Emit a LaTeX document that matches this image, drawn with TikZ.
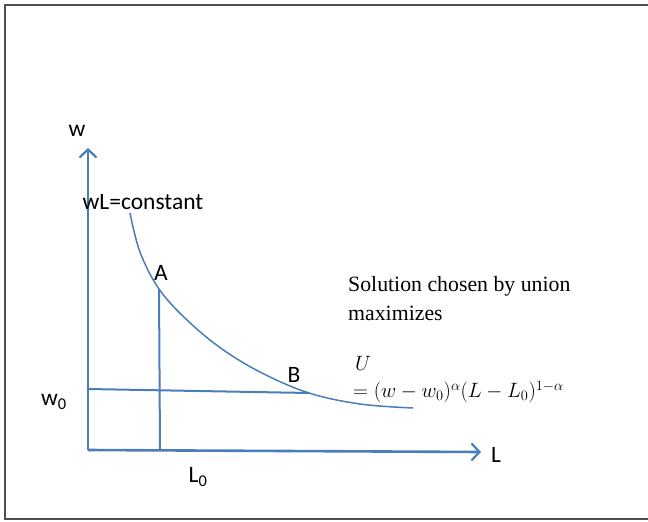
\documentclass[tikz,border=0pt]{standalone}
\usepackage{fontspec}
\setmainfont{Liberation Serif}
\newfontfamily\calibfont{Carlito}
\usepackage{tikz}
\usetikzlibrary{arrows.meta, positioning}
\definecolor{OfficeBlue}{HTML}{4A7EBB}
\definecolor{FrameGray}{HTML}{505050}

\begin{document}
\begin{tikzpicture}[x=1pt, y=-1pt,
    axis/.style={OfficeBlue, line width=2.6pt,
                 -{Straight Barb[length=8pt, width=17pt, line width=2.2pt]}},
    guide/.style={OfficeBlue, line width=2pt},
    curve/.style={OfficeBlue, line width=1.5pt},
    lbl/.style={font=\calibfont\fontsize{23.5}{28}\selectfont, inner sep=0pt},
    txt/.style={font=\fontsize{21.8}{29}\selectfont, inner sep=0pt, align=left}]
  \useasboundingbox (0,0) rectangle (648,522);
  % Frame
  \draw[FrameGray, line width=2pt] (660,5) -- (5,5) -- (5,519) -- (660,519);

  % Axes
  \coordinate (O) at (88,450);
  \coordinate (wtop) at (88,148);
  \coordinate (Lend) at (481,452);
  \draw[axis] (O) -- (wtop);
  \draw[axis] (O) -- (Lend);
  \node[lbl] (wlab) at (77,131) {w};
  \node[lbl] (Llab) at (496,455) {L};

  % wL = constant curve
  \coordinate (A) at (159,289);
  \coordinate (B) at (309,393);
  \draw[curve] plot[smooth, tension=0.6] coordinates
    {(130,213) (140,252) (A) (187,320) (222,349) (262,373) (B) (360,404) (413,408)};
  \node[lbl] (const) at (143,202) {wL=constant};
  \node[lbl] (Alab) at (161,273) {A};
  \node[lbl] (Blab) at (294,375) {B};

  % Reservation levels
  \coordinate (w0pt) at (88,389);
  \coordinate (L0pt) at (160,450);
  \draw[guide] (w0pt) -- (B);
  \draw[guide] (L0pt) -- (A);
  \node[lbl] (w0lab) at (54,402) {w\textsubscript{0}};
  \node[lbl] (L0lab) at (198,477) {L\textsubscript{0}};

  % Union objective
  \node[txt, anchor=north west] (sol) at (348,276)
    {Solution chosen by union\\maximizes};
  \node[txt, anchor=west] (Ulab) at (355,363) {$U$};
  \node[txt, anchor=west] (Ueq) at (353,392)
    {$=(w-w_0)^{\alpha}(L-L_0)^{1-\alpha}$};
\end{tikzpicture}
\end{document}
